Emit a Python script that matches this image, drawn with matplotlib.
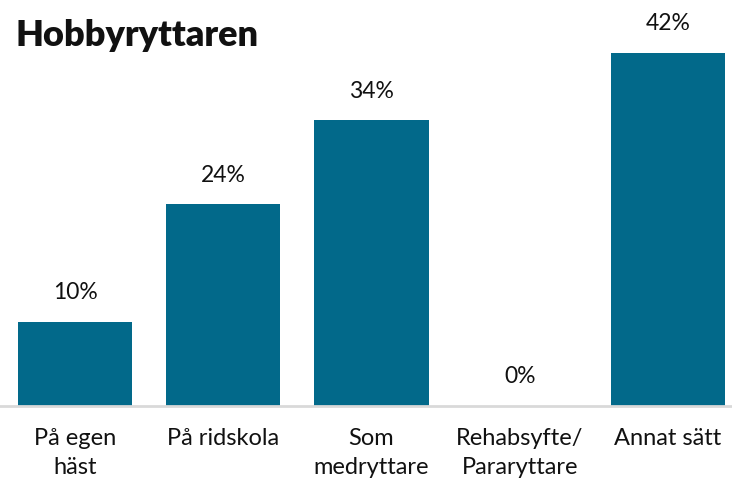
import matplotlib
matplotlib.use("Agg")
import matplotlib.pyplot as plt

# data
categories = ["På egen\nhäst", "På ridskola", "Som\nmedryttare", "Rehabsyfte/\nPararyttare", "Annat sätt"]
values = [10, 24, 34, 0, 42]
title = "Hobbyryttaren"

bar_color = "#02698a"

plt.rcParams['font.family'] = ['Lato', 'DejaVu Sans']

fig = plt.figure(figsize=(7.32, 4.84), dpi=100)
ax = fig.add_axes([0, 78 / 484, 1, 406 / 484])

x = list(range(len(categories)))
bars = ax.bar(x, values, width=0.77, color=bar_color, zorder=2)

ax.set_xlim(-75 / 148.25, (732 - 75) / 148.25)
ax.set_ylim(0, 406 / 8.4)

for b, v in zip(bars, values):
    ax.annotate("{}%".format(v), (b.get_x() + b.get_width() / 2, v),
                xytext=(0, 13.5), textcoords="offset points",
                ha="center", va="bottom", fontsize=16.5, color="#111111")

ax.set_xticks(x)
ax.set_xticklabels(categories, fontsize=17, color="#111111", linespacing=1.45)
ax.tick_params(axis="x", length=0, pad=16)
ax.set_yticks([])

for s in ["top", "left", "right"]:
    ax.spines[s].set_visible(False)
ax.spines["bottom"].set_color("#d9d9d9")
ax.spines["bottom"].set_linewidth(2)

fig.text(15 / 732, 1 - 35 / 484, title, fontsize=26, fontweight="heavy",
         va="center", ha="left", color="#111111")

fig.savefig("out.png", dpi=100, facecolor="white")
